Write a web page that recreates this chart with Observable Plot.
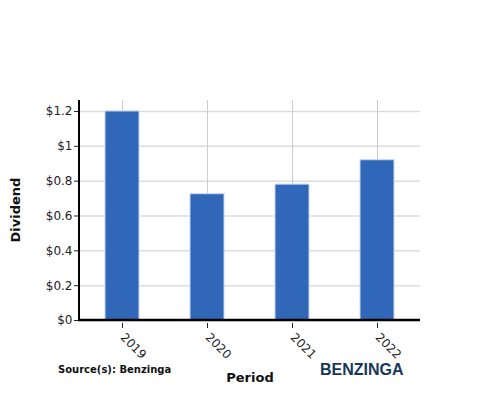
<!DOCTYPE html>
<html><head><meta charset="utf-8">
<script src="https://cdn.jsdelivr.net/npm/d3@7"></script>
<script src="https://cdn.jsdelivr.net/npm/@observablehq/plot@0.6"></script>
<style>body{margin:0;background:#fff;font-family:"DejaVu Sans",sans-serif}</style>
</head><body><div id="chart"></div>
<script>
const periods = ["2019", "2020", "2021", "2022"];
const dividends = [1.2, 0.725, 0.78, 0.92];
const yTicks = [0, 0.2, 0.4, 0.6, 0.8, 1, 1.2];
const data = periods.map((p, i) => ({period: p, dividend: dividends[i]}));

const chart = Plot.plot({
  width: 500, height: 400,
  marginLeft: 79, marginRight: 80, marginTop: 100, marginBottom: 80,
  style: {fontFamily: "DejaVu Sans", fontSize: "12px", color: "#222", background: "#fff"},
  x: {domain: periods, paddingInner: 0.6, paddingOuter: 0.3, label: null},
  y: {domain: [0, 1.263], label: null},
  marks: [
    Plot.gridY(yTicks, {stroke: "#ddd", strokeOpacity: 1, strokeWidth: 1.5}),
    Plot.gridX(periods, {stroke: "#ccc", strokeOpacity: 1, strokeWidth: 1}),
    Plot.barY(data, {x: "period", y: "dividend", fill: "#3067b8", stroke: "#c5d7f0", strokeWidth: 1}),
    Plot.axisY({ticks: yTicks, tickFormat: d => "$" + d3.format("")(d), tickSize: 5, tickPadding: 2, fontSize: 12, label: null}),
    Plot.axisX({tickSize: 5, tickRotate: 45, textAnchor: "start", dx: 0, dy: 3, fontSize: 12, label: null})
  ]
});
document.getElementById("chart").appendChild(chart);

const svg = d3.select(chart);
// axis lines
svg.append("line").attr("x1", 79).attr("x2", 79).attr("y1", 100).attr("y2", 321).attr("stroke", "#000").attr("stroke-width", 2);
svg.append("line").attr("x1", 78).attr("x2", 420).attr("y1", 320).attr("y2", 320).attr("stroke", "#000").attr("stroke-width", 2.5);
// titles
svg.append("text").attr("x", 250).attr("y", 382).attr("text-anchor", "middle")
  .attr("font-weight", "bold").attr("font-size", 13).attr("fill", "#111").text("Period");
svg.append("text").attr("transform", "translate(20,210) rotate(-90)").attr("text-anchor", "middle")
  .attr("font-weight", "bold").attr("font-size", 13).attr("fill", "#111").text("Dividend");
svg.append("text").attr("x", 58).attr("y", 373).attr("text-anchor", "start").attr("font-weight", "bold").attr("font-size", 10)
  .attr("fill", "#111").text("Source(s): Benzinga");
svg.append("text").attr("x", 320).attr("y", 375).attr("text-anchor", "start").attr("font-weight", "bold").attr("font-size", 16)
  .attr("fill", "#17375a").attr("font-family", "Liberation Sans, Arial, sans-serif").text("BENZINGA");
</script>
</body></html>
